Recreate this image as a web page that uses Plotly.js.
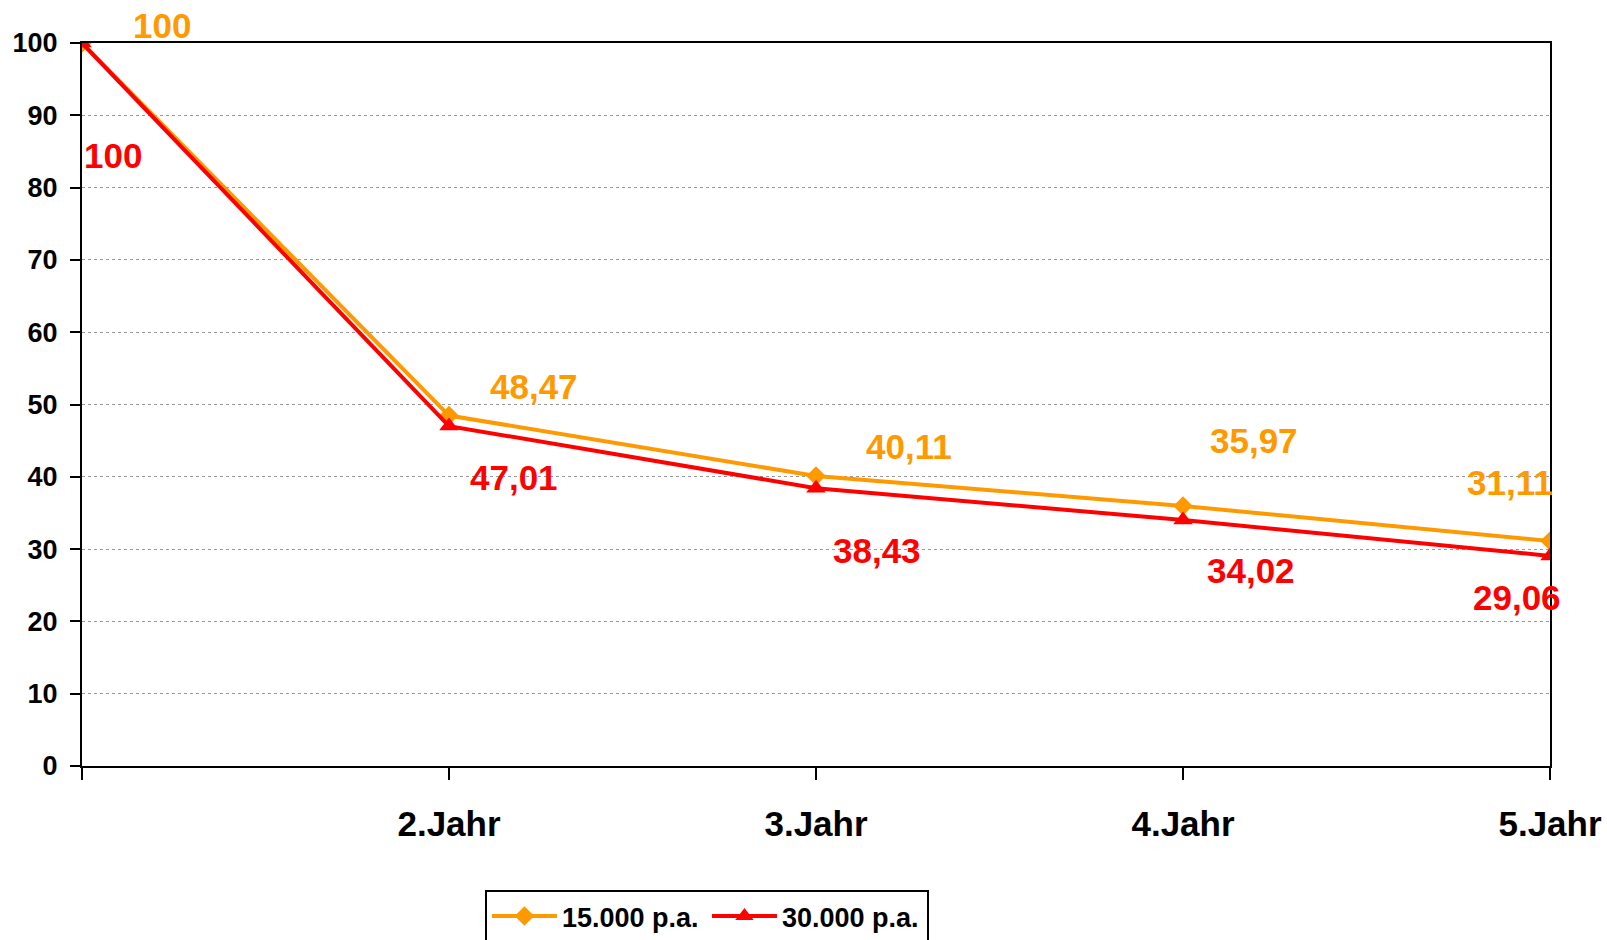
<!DOCTYPE html>
<html>
<head>
<meta charset="utf-8">
<script src="https://cdn.plot.ly/plotly-3.0.1.min.js"></script>
<style>html,body{margin:0;padding:0;background:#fff;}#chart{width:1607px;height:940px;}</style>
</head>
<body>
<div id="chart"></div>
<script>
// ---- data ----
const categories = ["", "2.Jahr", "3.Jahr", "4.Jahr", "5.Jahr"];
const xIndex = [0, 1, 2, 3, 4];
const series15Name = "15.000 p.a.";
const series15 = [100, 48.47, 40.11, 35.97, 31.11];
const series30Name = "30.000 p.a.";
const series30 = [100, 47.01, 38.43, 34.02, 29.06];
const yTicks = [0, 10, 20, 30, 40, 50, 60, 70, 80, 90, 100];

// ---- label offsets (pixels) ----
const off15 = [[80, -18], [85, -29], [93, -30], [71, -65], [-40, -59]];
const off30 = [[31, 112], [65, 51], [61, 62], [68, 50], [-33, 42]];

const ORANGE = "#FF9900";
const RED = "#FF0000";
const FONT = "Liberation Sans, Arial, sans-serif";

function fmt(v) {
  return Number.isInteger(v) ? String(v) : v.toFixed(2).replace(".", ",");
}

const traces = [
  {
    x: xIndex, y: series15, name: series15Name, type: "scatter", mode: "lines+markers",
    line: {color: ORANGE, width: 4},
    marker: {symbol: "diamond", size: 15, color: ORANGE}
  },
  {
    x: xIndex, y: series30, name: series30Name, type: "scatter", mode: "lines+markers",
    line: {color: RED, width: 4},
    marker: {symbol: "triangle-up", size: 17, color: RED}
  }
];

const annotations = [];
series15.forEach((v, i) => annotations.push({
  x: xIndex[i], y: v, xref: "x", yref: "y", text: fmt(v), showarrow: false,
  xshift: off15[i][0], yshift: -off15[i][1],
  font: {family: FONT, size: 35, color: ORANGE, weight: "bold"}
}));
series30.forEach((v, i) => annotations.push({
  x: xIndex[i], y: v, xref: "x", yref: "y", text: fmt(v), showarrow: false,
  xshift: off30[i][0], yshift: -off30[i][1],
  font: {family: FONT, size: 35, color: RED, weight: "bold"}
}));

const layout = {
  width: 1607, height: 940,
  margin: {l: 82, r: 57, t: 43, b: 174, autoexpand: false},
  paper_bgcolor: "#fff", plot_bgcolor: "#fff",
  font: {family: FONT, color: "#000", weight: "bold"},
  showlegend: true,
  legend: {
    orientation: "h", x: 0.2745, xanchor: "left", y: -0.1715, yanchor: "top",
    bordercolor: "#000", borderwidth: 2, bgcolor: "#fff",
    font: {family: FONT, size: 27, color: "#000", weight: "bold"},
    itemwidth: 65, entrywidth: 140, entrywidthmode: "pixels", tracegroupgap: 0
  },
  xaxis: {
    range: [0, 4], tickmode: "array", tickvals: xIndex, ticktext: categories,
    showgrid: false, zeroline: false,
    showline: true, linecolor: "#000", linewidth: 2, mirror: true,
    ticks: "outside", ticklen: 12, tickwidth: 2, tickcolor: "#000",
    ticklabelstandoff: 14,
    tickfont: {family: FONT, size: 35, color: "#000", weight: "bold"}
  },
  yaxis: {
    range: [0, 100], tickmode: "array", tickvals: yTicks,
    showgrid: true, gridcolor: "#999", gridwidth: 1, griddash: "dot",
    zeroline: false,
    showline: true, linecolor: "#000", linewidth: 2, mirror: true,
    ticks: "outside", ticklen: 10, tickwidth: 2, tickcolor: "#000",
    ticklabelstandoff: 7,
    tickfont: {family: FONT, size: 27, color: "#000", weight: "bold"}
  },
  annotations: annotations
};

Plotly.newPlot("chart", traces, layout, {displayModeBar: false, staticPlot: true});
</script>
</body>
</html>
